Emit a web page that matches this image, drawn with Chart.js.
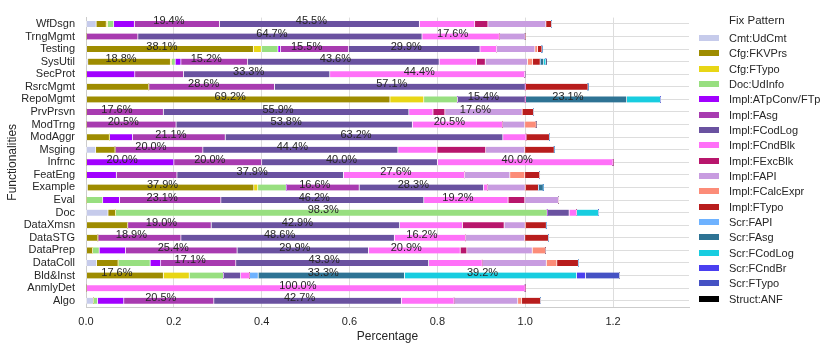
<!DOCTYPE html>
<html>
<head>
<meta charset="utf-8">
<script src="https://cdn.jsdelivr.net/npm/chart.js@4.4.1/dist/chart.umd.min.js"></script>
<style>
  html, body { margin: 0; padding: 0; background: #fff; }
  #wrap { position: relative; width: 831px; height: 351px; }
  #legend { position: absolute; left: 0; top: 0; font-family: 'Liberation Sans', Arial, sans-serif; color: #262626; }
  .leg-title { position: absolute; left: 729px; top: 14px; font-size: 11.5px; white-space: nowrap; }
  .leg-item { position: absolute; left: 699px; height: 14px; line-height: 14px; font-size: 11px; white-space: nowrap; }
  .leg-item span { display: inline-block; width: 20px; height: 6px; margin-right: 10px; vertical-align: middle; position: relative; top: -1px; }
</style>
</head>
<body>
<div id="wrap">
  <canvas id="chart" width="831" height="351"></canvas>
  <div id="legend"></div>
</div>
<script>
const categories = ['WfDsgn', 'TrngMgmt', 'Testing', 'SysUtil', 'SecProt', 'RsrcMgmt', 'RepoMgmt', 'PrvPrsvn',
  'ModTrng', 'ModAggr', 'Msging', 'Infrnc', 'FeatEng', 'Example', 'Eval', 'Doc', 'DataXmsn', 'DataSTG',
  'DataPrep', 'DataColl', 'Bld&Inst', 'AnmlyDet', 'Algo'];

const patterns = ['Cmt:UdCmt', 'Cfg:FKVPrs', 'Cfg:FTypo', 'Doc:UdInfo', 'Impl:ATpConv/FTp', 'Impl:FAsg',
  'Impl:FCodLog', 'Impl:FCndBlk', 'Impl:FExcBlk', 'Impl:FAPI', 'Impl:FCalcExpr', 'Impl:FTypo',
  'Scr:FAPI', 'Scr:FAsg', 'Scr:FCodLog', 'Scr:FCndBr', 'Scr:FTypo', 'Struct:ANF'];

const patternColors = ['#c6cbeb', '#9e8c00', '#e8d616', '#98df80', '#a100ff', '#a83bb0',
  '#6a52a0', '#ff70f8', '#b8166c', '#c89ce0', '#fc8c78', '#b81d1d',
  '#6eb2ff', '#2e7394', '#18cde0', '#4a3ff0', '#4552c4', '#000000'];

// one value per functionality, same order as categories
const cmtUdCmt      = [0.023, 0, 0, 0.004, 0, 0, 0, 0, 0, 0, 0.022, 0, 0, 0.003, 0, 0.050, 0, 0, 0, 0.024, 0, 0, 0.017];
const cfgFKVPrs     = [0.023, 0, 0.381, 0.188, 0, 0.143, 0.692, 0, 0, 0.053, 0.044, 0, 0, 0.379, 0, 0.017, 0.095, 0.027, 0.015, 0.049, 0.176, 0, 0];
const cfgFTypo      = [0.003, 0, 0.018, 0.003, 0, 0, 0.077, 0, 0, 0, 0, 0, 0, 0.009, 0, 0, 0, 0, 0, 0, 0.059, 0, 0];
const docUdInfo     = [0.014, 0, 0.038, 0.008, 0, 0, 0.077, 0, 0, 0, 0, 0, 0, 0.065, 0.038, 0.983, 0, 0, 0.015, 0.073, 0.078, 0, 0.009];
const implATpConv   = [0.047, 0, 0.006, 0.013, 0.111, 0, 0, 0, 0, 0.053, 0, 0.200, 0.069, 0, 0.038, 0, 0, 0, 0.060, 0.024, 0, 0, 0.060];
const implFAsg      = [0.194, 0.118, 0.155, 0.152, 0.111, 0.286, 0, 0.176, 0.205, 0.211, 0.200, 0.200, 0.138, 0.166, 0.231, 0, 0.190, 0.189, 0.254, 0.171, 0, 0, 0.205];
const implFCodLog   = [0.455, 0.647, 0.299, 0.436, 0.333, 0.571, 0.154, 0.559, 0.538, 0.632, 0.444, 0.400, 0.379, 0.283, 0.462, 0.050, 0.429, 0.486, 0.299, 0.439, 0.039, 0, 0.427];
const implFCndBlk   = [0.126, 0.176, 0.038, 0.085, 0.444, 0, 0, 0.055, 0.205, 0.053, 0.089, 0.400, 0.276, 0.009, 0.192, 0.017, 0.143, 0.162, 0.209, 0.122, 0.020, 1.000, 0.120];
const implFExcBlk   = [0.030, 0, 0, 0.020, 0, 0, 0, 0.027, 0, 0, 0.111, 0, 0, 0, 0.038, 0, 0.095, 0, 0.015, 0, 0, 0, 0];
const implFAPI      = [0.132, 0.059, 0.087, 0.096, 0, 0, 0, 0.176, 0.051, 0, 0.089, 0, 0.103, 0.086, 0.077, 0, 0.048, 0.135, 0.149, 0.146, 0, 0, 0.145];
const implFCalcExpr = [0, 0, 0.006, 0.012, 0, 0, 0, 0, 0.026, 0, 0, 0, 0.034, 0, 0, 0, 0, 0, 0.030, 0.024, 0, 0, 0.009];
const implFTypo     = [0.013, 0, 0.010, 0.017, 0, 0.143, 0, 0.026, 0, 0.053, 0.067, 0, 0.034, 0.030, 0, 0, 0.048, 0.054, 0, 0.049, 0, 0, 0.043];
const scrFAPI       = [0, 0, 0, 0, 0, 0, 0, 0, 0, 0, 0, 0, 0, 0, 0, 0, 0, 0, 0, 0, 0.020, 0, 0];
const scrFAsg       = [0, 0, 0, 0.008, 0, 0, 0.231, 0, 0, 0, 0, 0, 0, 0.011, 0, 0, 0, 0, 0, 0, 0.333, 0, 0];
const scrFCodLog    = [0, 0, 0, 0.005, 0, 0, 0.077, 0, 0, 0, 0, 0, 0, 0, 0, 0.050, 0, 0, 0, 0, 0.392, 0, 0];
const scrFCndBr     = [0, 0, 0, 0, 0, 0, 0, 0, 0, 0, 0, 0, 0, 0, 0, 0, 0, 0, 0, 0, 0.020, 0, 0];
const scrFTypo      = [0, 0, 0, 0, 0, 0, 0, 0, 0, 0, 0, 0, 0, 0, 0, 0, 0, 0, 0, 0, 0.078, 0, 0];
const structANF     = [0, 0, 0, 0.002, 0, 0, 0, 0, 0, 0, 0, 0, 0, 0, 0, 0, 0, 0, 0, 0, 0, 0, 0];

const patternValues = [cmtUdCmt, cfgFKVPrs, cfgFTypo, docUdInfo, implATpConv, implFAsg, implFCodLog,
  implFCndBlk, implFExcBlk, implFAPI, implFCalcExpr, implFTypo, scrFAPI, scrFAsg, scrFCodLog,
  scrFCndBr, scrFTypo, structANF];

const xTicks = [0, 0.2, 0.4, 0.6, 0.8, 1.0, 1.2];

const FONT = "'Liberation Sans', Arial, sans-serif";
const TEXT = '#262626';
const GRID = '#dddddd';

// percentage text on the wide segments
const segmentLabels = {
  id: 'segmentLabels',
  afterDatasetsDraw(chart) {
    const { ctx } = chart;
    ctx.save();
    ctx.font = `11px ${FONT}`;
    ctx.fillStyle = TEXT;
    ctx.textAlign = 'center';
    ctx.textBaseline = 'middle';
    chart.data.datasets.forEach((ds, i) => {
      chart.getDatasetMeta(i).data.forEach((bar, j) => {
        const v = ds.data[j];
        if (v < 0.15) return;
        const cx = (bar.x + bar.base) / 2 - 8;
        ctx.fillText(`${(v * 100).toFixed(1)}%`, cx, bar.y - 2.5);
      });
    });
    ctx.restore();
  }
};

const datasets = patterns.map((name, i) => ({
  label: name,
  data: patternValues[i],
  backgroundColor: patternColors[i],
  borderColor: '#ffffff',
  borderWidth: { left: 0.7, right: 0.7, top: 0, bottom: 0 },
  borderSkipped: false,
  barThickness: 6
}));

new Chart(document.getElementById('chart'), {
  type: 'bar',
  data: { labels: categories, datasets },
  options: {
    indexAxis: 'y',
    responsive: false,
    animation: false,
    layout: { padding: { top: 7, right: 142, bottom: 0, left: 0 } },
    plugins: { legend: { display: false }, tooltip: { enabled: false } },
    scales: {
      x: {
        stacked: true,
        min: 0,
        max: 1.373,
        afterBuildTicks: (scale) => { scale.ticks = xTicks.map((v) => ({ value: v })); },
        ticks: { padding: 8, color: TEXT, font: { family: FONT, size: 11 }, callback: (v) => Number(v).toFixed(1) },
        grid: { color: GRID, lineWidth: 1, drawTicks: false },
        border: { color: '#cccccc' },
        title: { display: true, text: 'Percentage', color: TEXT, font: { family: FONT, size: 12 }, padding: { top: 7, bottom: 7 } },
        afterFit: (scale) => { scale.height = 44; }
      },
      y: {
        stacked: true,
        ticks: { padding: 11, autoSkip: false, color: TEXT, font: { family: FONT, size: 11 } },
        grid: { offset: false, color: GRID, lineWidth: 1, drawTicks: false },
        border: { color: '#cccccc' },
        title: { display: true, text: 'Functionalities', color: TEXT, font: { family: FONT, size: 12 }, padding: { top: 5, bottom: 4 } },
        afterFit: (scale) => { scale.width = 86; }
      }
    }
  },
  plugins: [segmentLabels]
});

// legend in html so it can sit exactly where the reference has it
const legend = document.getElementById('legend');
const title = document.createElement('div');
title.className = 'leg-title';
title.textContent = 'Fix Pattern';
legend.appendChild(title);
patterns.forEach((name, i) => {
  const item = document.createElement('div');
  item.className = 'leg-item';
  item.style.top = (31 + i * 15.33) + 'px';
  const sw = document.createElement('span');
  sw.style.background = patternColors[i];
  item.appendChild(sw);
  item.appendChild(document.createTextNode(name));
  legend.appendChild(item);
});
</script>
</body>
</html>
